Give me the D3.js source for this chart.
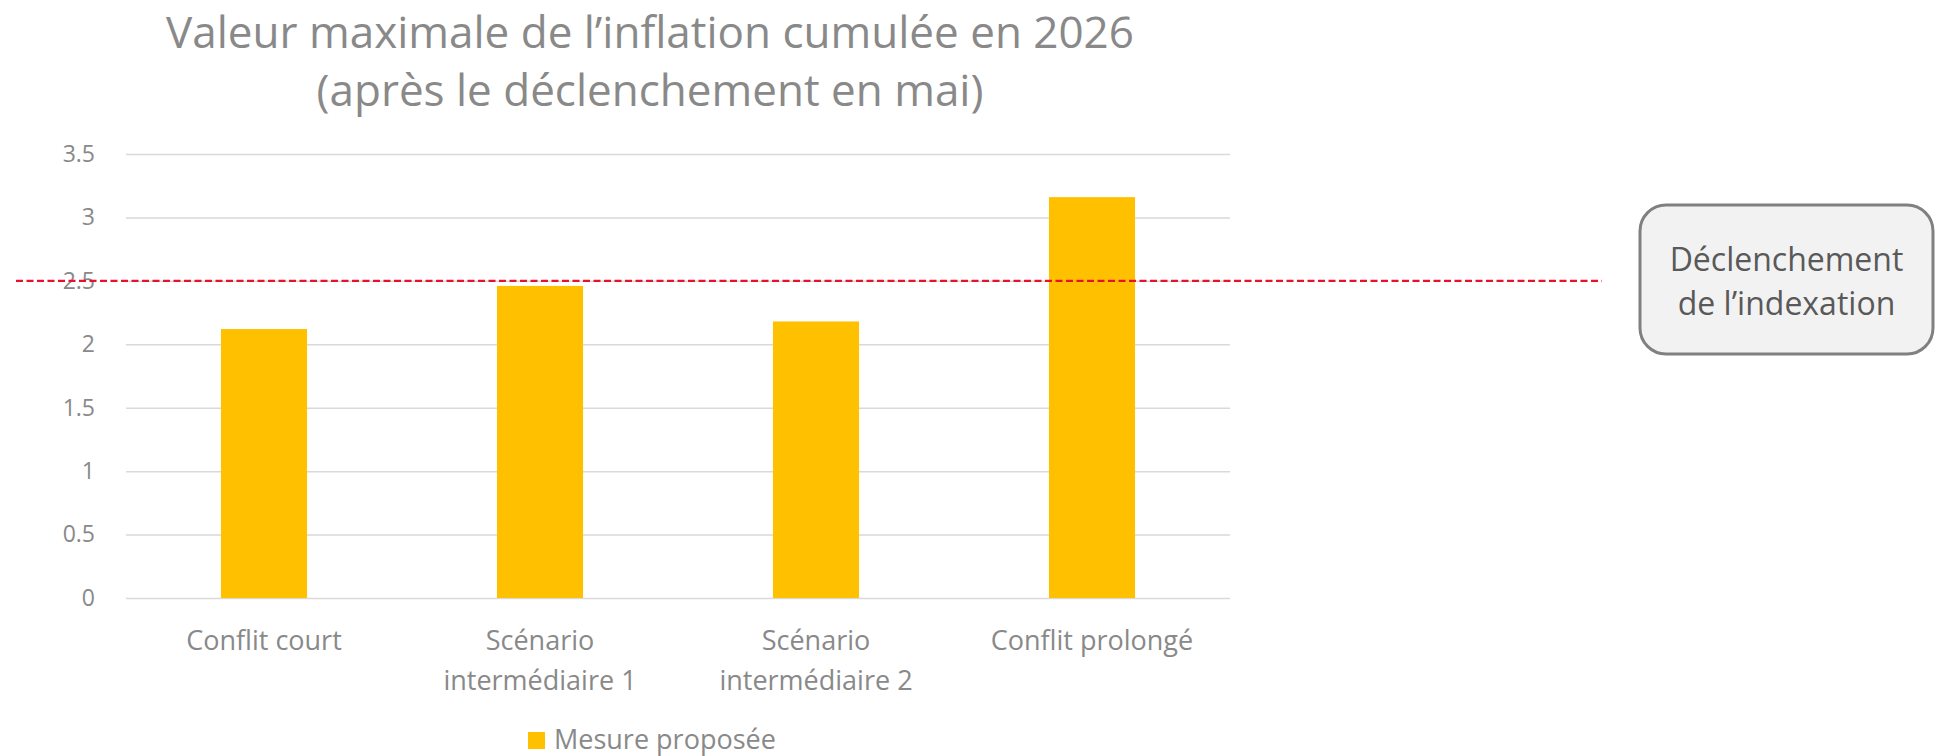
<!DOCTYPE html>
<html>
<head>
<meta charset="utf-8">
<script src="https://cdn.jsdelivr.net/npm/d3@7"></script>
<style>
  body { margin: 0; background: #fff; }
  svg { display: block; font-family: 'Open Sans', sans-serif; }
  .tick text { fill: #898989; }
</style>
</head>
<body>
<div id="chart"></div>
<script>
const categories = [['Conflit court'], ['Scénario', 'intermédiaire 1'],
  ['Scénario', 'intermédiaire 2'], ['Conflit prolongé']];
const values = [2.12, 2.46, 2.18, 3.16];
const yTicks = [0, 0.5, 1, 1.5, 2, 2.5, 3, 3.5];
const threshold = 2.5;
const titleLines = ['Valeur maximale de l’inflation cumulée en 2026', '(après le déclenchement en mai)'];
const noteLines = ['Déclenchement', 'de l’indexation'];
const seriesName = 'Mesure proposée';

const W = 1942;
const H = 756;
const margin = { top: 154, right: 712, bottom: 158, left: 126 };
const width = W - margin.left - margin.right;
const height = H - margin.top - margin.bottom;
const gray = '#898989';
const barColor = '#ffc000';

const svg = d3.select('#chart').append('svg')
  .attr('width', W)
  .attr('height', H);

// title
svg.append('g').selectAll('text')
  .data(titleLines)
  .enter().append('text')
  .attr('x', 650)
  .attr('y', (d, i) => 48 + i * 58)
  .attr('text-anchor', 'middle')
  .style('font-size', '44px')
  .style('fill', gray)
  .text(d => d);

const g = svg.append('g')
  .attr('transform', `translate(${margin.left}, ${margin.top})`);

const x = d3.scaleBand().domain(d3.range(categories.length)).range([0, width]);
const y = d3.scaleLinear().domain([0, 3.5]).range([height, 0]);

// gridlines + y labels
g.append('g')
  .call(d3.axisLeft(y).tickValues(yTicks).tickSize(-width).tickPadding(31).tickFormat(d => d))
  .attr('font-family', null)
  .attr('font-size', null)
  .call(a => a.select('.domain').remove())
  .call(a => a.selectAll('.tick line').attr('stroke', '#d9d9d9').attr('stroke-width', 1.5))
  .call(a => a.selectAll('.tick text').style('font-size', '23px'));

// bars
const barW = x.bandwidth() * 0.312;
g.selectAll('.bar')
  .data(values)
  .enter().append('rect')
  .attr('class', 'bar')
  .attr('x', (d, i) => x(i) + (x.bandwidth() - barW) / 2)
  .attr('width', barW)
  .attr('y', d => y(d))
  .attr('height', d => height - y(d))
  .style('fill', barColor);

// category labels
const xl = g.append('g').attr('transform', `translate(0, ${height})`)
  .selectAll('text')
  .data(categories)
  .enter().append('text')
  .attr('text-anchor', 'middle')
  .style('font-size', '27px')
  .style('fill', gray);
xl.selectAll('tspan')
  .data((d, i) => d.map(t => ({ t, i })))
  .enter().append('tspan')
  .attr('x', d => x(d.i) + x.bandwidth() / 2)
  .attr('y', (d, j) => 52 + j * 40)
  .text(d => d.t);

// threshold line, runs across the whole figure
svg.append('line')
  .attr('x1', 16)
  .attr('x2', 1602)
  .attr('y1', margin.top + y(threshold))
  .attr('y2', margin.top + y(threshold))
  .attr('stroke', '#e8112d')
  .attr('stroke-width', 2.2)
  .attr('stroke-dasharray', '7,3.5');

// note box
const note = svg.append('g').attr('transform', 'translate(1640, 205)');
note.append('rect')
  .attr('width', 293)
  .attr('height', 149)
  .attr('rx', 26)
  .style('fill', '#f2f2f2')
  .style('stroke', '#808080')
  .style('stroke-width', 3);
note.selectAll('text')
  .data(noteLines)
  .enter().append('text')
  .attr('x', 146.5)
  .attr('y', (d, i) => 66 + i * 44)
  .attr('text-anchor', 'middle')
  .style('font-size', '32px')
  .style('fill', '#595959')
  .text(d => d);

// legend
const legend = svg.append('g').attr('transform', 'translate(528, 732)');
legend.append('rect')
  .attr('width', 17)
  .attr('height', 17)
  .style('fill', barColor);
legend.append('text')
  .attr('x', 26)
  .attr('y', 17)
  .style('font-size', '27px')
  .style('fill', gray)
  .text(seriesName);
</script>
</body>
</html>
